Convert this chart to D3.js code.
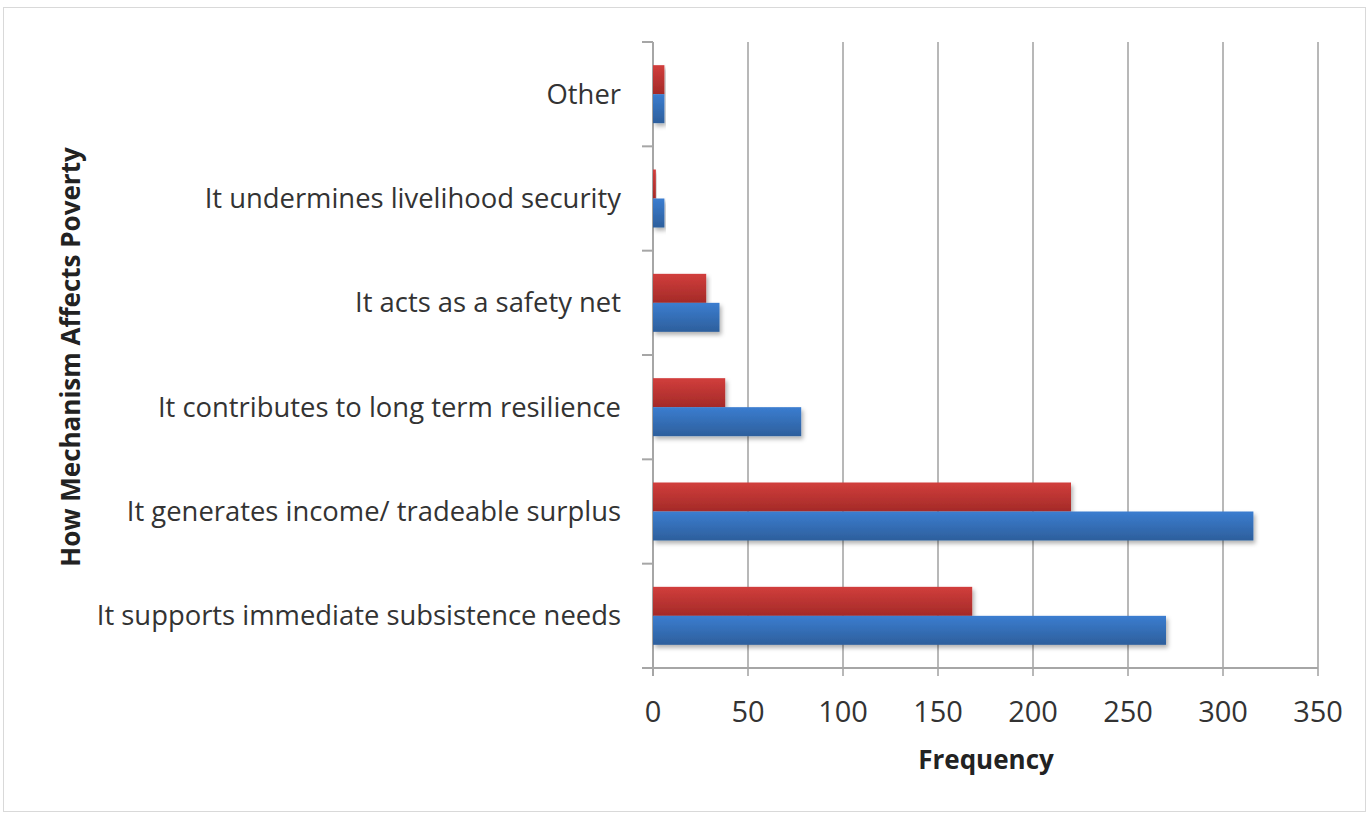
<!DOCTYPE html>
<html>
<head>
<meta charset="utf-8">
<script src="https://cdnjs.cloudflare.com/ajax/libs/d3/7.8.5/d3.min.js"></script>
<style>
  body { margin: 0; background: #fff; }
  svg { display: block; }
</style>
</head>
<body>
<div id="viz"></div>
<script>
/* horizontal grouped bars, drawn with d3 */

var categories = [
  "Other",
  "It undermines livelihood security",
  "It acts as a safety net",
  "It contributes to long term resilience",
  "It generates income/ tradeable surplus",
  "It supports immediate subsistence needs"
];
var redValues = [6, 1.5, 28, 38, 220, 168];
var blueValues = [6, 6, 35, 78, 316, 270];
var xTicks = [0, 50, 100, 150, 200, 250, 300, 350];

var width = 1369, height = 816,
    margin = { top: 42, right: 51, bottom: 148, left: 653 };

var svg = d3.select('#viz').append('svg')
    .attr('width', width)
    .attr('height', height);

var defs = svg.append('defs');
function grad(id, c1, c2) {
  var g = defs.append('linearGradient').attr('id', id)
      .attr('x1', 0).attr('y1', 0).attr('x2', 0).attr('y2', 1);
  g.append('stop').attr('offset', '0%').attr('stop-color', c1);
  g.append('stop').attr('offset', '100%').attr('stop-color', c2);
}
grad('gRed', '#d13e3c', '#a42a28');
grad('gBlue', '#3b7dd0', '#2d5f9c');
var f = defs.append('filter').attr('id', 'shadow')
    .attr('x', '-5%').attr('y', '-20%').attr('width', '115%').attr('height', '160%');
f.append('feDropShadow').attr('dx', 2).attr('dy', 3).attr('stdDeviation', 2)
    .attr('flood-color', '#000').attr('flood-opacity', 0.3);

// chart border
svg.append('rect')
    .attr('x', 3.5).attr('y', 7.5)
    .attr('width', 1362).attr('height', 804)
    .attr('fill', 'none').attr('stroke', '#d9d9d9');

var innerW = width - margin.left - margin.right,
    innerH = height - margin.top - margin.bottom;

var g = svg.append('g')
    .attr('transform', 'translate(' + margin.left + ',' + margin.top + ')');

var x = d3.scaleLinear().domain([0, 350]).range([0, innerW]);
var y = d3.scaleBand().domain(categories).range([0, innerH]);

// gridlines
g.append('g').selectAll('line').data(xTicks.slice(1))
  .enter().append('line')
    .attr('x1', function(d) { return x(d); })
    .attr('x2', function(d) { return x(d); })
    .attr('y1', 0).attr('y2', innerH + 8)
    .attr('stroke', '#b8b8b8').attr('stroke-width', 2);

// y axis with ticks at band boundaries
g.append('line')
    .attr('x1', 0).attr('x2', 0).attr('y1', 0).attr('y2', innerH)
    .attr('stroke', '#a6a6a6').attr('stroke-width', 2);
g.append('g').selectAll('line').data(d3.range(categories.length + 1))
  .enter().append('line')
    .attr('x1', -11).attr('x2', 0)
    .attr('y1', function(i) { return i * y.step(); })
    .attr('y2', function(i) { return i * y.step(); })
    .attr('stroke', '#a6a6a6').attr('stroke-width', 2);

// x axis
g.append('line')
    .attr('x1', -11).attr('x2', innerW).attr('y1', innerH).attr('y2', innerH)
    .attr('stroke', '#a6a6a6').attr('stroke-width', 2);
g.append('line')
    .attr('x1', 0).attr('x2', 0).attr('y1', innerH).attr('y2', innerH + 8)
    .attr('stroke', '#a6a6a6').attr('stroke-width', 2);

var barH = 29;
var bars = g.append('g');
bars.selectAll('rect.red').data(redValues)
  .enter().append('rect')
    .attr('class', 'red')
    .attr('x', 0)
    .attr('y', function(d, i) { return y(categories[i]) + y.bandwidth() / 2 - barH; })
    .attr('width', function(d) { return x(d); })
    .attr('height', barH)
    .attr('fill', 'url(#gRed)')
    .attr('filter', 'url(#shadow)');
bars.selectAll('rect.blue').data(blueValues)
  .enter().append('rect')
    .attr('class', 'blue')
    .attr('x', 0)
    .attr('y', function(d, i) { return y(categories[i]) + y.bandwidth() / 2; })
    .attr('width', function(d) { return x(d); })
    .attr('height', barH)
    .attr('fill', 'url(#gBlue)')
    .attr('filter', 'url(#shadow)');

var font = '"Open Sans", sans-serif';

// category labels
g.append('g').selectAll('text').data(categories)
  .enter().append('text')
    .attr('x', -32)
    .attr('y', function(d) { return y(d) + y.bandwidth() / 2; })
    .attr('dy', '0.35em')
    .attr('text-anchor', 'end')
    .attr('font-family', font)
    .attr('font-size', 27.4)
    .attr('fill', '#333')
    .text(function(d) { return d; });

// x tick labels
g.append('g').selectAll('text').data(xTicks)
  .enter().append('text')
    .attr('x', function(d) { return x(d); })
    .attr('y', innerH + 54)
    .attr('text-anchor', 'middle')
    .attr('font-family', font)
    .attr('font-size', 29)
    .attr('fill', '#333')
    .text(function(d) { return d; });

// axis titles
svg.append('text')
    .attr('x', 986).attr('y', 769)
    .attr('text-anchor', 'middle')
    .attr('font-family', font)
    .attr('font-weight', 'bold')
    .attr('font-size', 26)
    .attr('fill', '#222')
    .text('Frequency');

svg.append('text')
    .attr('transform', 'translate(80,357) rotate(-90)')
    .attr('text-anchor', 'middle')
    .attr('font-family', font)
    .attr('font-weight', 'bold')
    .attr('font-size', 26)
    .attr('fill', '#222')
    .text('How Mechanism Affects Poverty');
</script>
</body>
</html>
